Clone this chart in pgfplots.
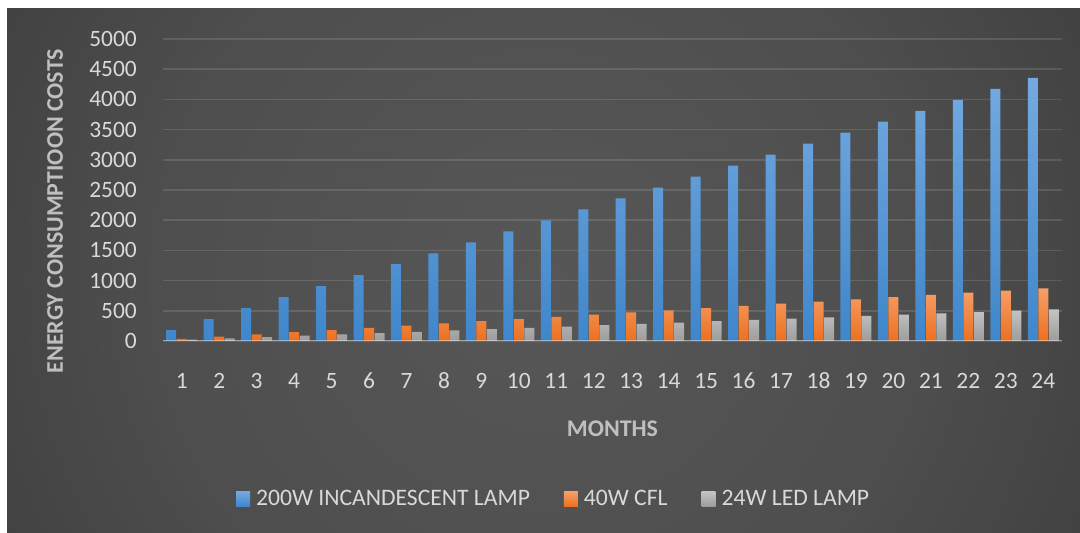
\documentclass[border=0pt]{standalone}
\usepackage{fontspec}
\setmainfont{Carlito}
\usepackage{pgfplots}
\pgfplotsset{compat=1.18}

% palette
\definecolor{bgc}{HTML}{575757}
\definecolor{bgm}{HTML}{4E4E4E}
\definecolor{bge}{HTML}{262626}
\definecolor{blueT}{HTML}{74AAE0}
\definecolor{blueB}{HTML}{3F86CB}
\definecolor{orangeT}{HTML}{F6A06A}
\definecolor{orangeB}{HTML}{EC7020}
\definecolor{greyT}{HTML}{C4C4C4}
\definecolor{greyB}{HTML}{9C9C9C}
\definecolor{ticktext}{HTML}{D9D9D9}
\definecolor{titletext}{HTML}{BFBFBF}

\pgfdeclareradialshading{bgglow}{\pgfpoint{0bp}{0bp}}{%
  color(0bp)=(bgc); color(12bp)=(bgm); color(34bp)=(bge); color(50bp)=(bge)}

\begin{document}
\begin{tikzpicture}
  % page and dark chart panel
  \fill[white] (0bp,0bp) rectangle (1080bp,533bp);
  \begin{scope}
    \clip (7bp,0bp) rectangle (1080bp,524bp);
    \shade[shading=bgglow] (-260bp,-547bp) rectangle (1340bp,1053bp);
  \end{scope}
  \useasboundingbox (0bp,0bp) rectangle (1080bp,533bp);

  \begin{axis}[
    at={(163bp,192bp)}, anchor=south west,
    scale only axis,
    width=899bp, height=302bp,
    xmin=0.5, xmax=24.5,
    ymin=0, ymax=5000,
    xtick={1,...,24},
    ytick={0,500,...,5000},
    ybar=0.5bp, bar width=10bp,
    axis line style={draw=none},
    major tick length=0pt,
    ymajorgrids,
    grid style={white, opacity=0.12, line width=1.6bp},
    /pgf/number format/assume math mode=true,
    /pgf/number format/1000 sep={},
    tick label style={font=\fontsize{23.5}{26}\selectfont, text=ticktext, inner sep=0pt},
    yticklabel style={anchor=east, xshift=-26bp},
    xticklabel style={anchor=base, yshift=-47bp},
    xlabel={MONTHS},
    ylabel={ENERGY CONSUMPTIOON COSTS},
    label style={font=\bfseries\fontsize{24}{27}\selectfont, text=titletext},
    xlabel style={at={(axis description cs:0.5,-0.291)}, anchor=center},
    ylabel style={at={(axis description cs:-0.120,0.430)}, anchor=center, rotate=0},
    legend columns=-1,
    legend style={at={(axis description cs:0.434,-0.523)}, anchor=center,
      draw=none, fill=none, text=ticktext,
      font=\fontsize{23.7}{26}\selectfont,
      nodes={inner sep=1bp},
      /tikz/every odd column/.append style={column sep=5bp},
      /tikz/every even column/.append style={column sep=33bp}},
    legend image code/.code={\fill[#1] (0bp,-7.5bp) rectangle (14bp,7.5bp);},
  ]
    \addplot[draw=none, top color=blueT, bottom color=blueB] coordinates {
      (1,182) (2,363) (3,545) (4,726) (5,908) (6,1089) (7,1271) (8,1452)
      (9,1634) (10,1815) (11,1997) (12,2178) (13,2360) (14,2541) (15,2723)
      (16,2904) (17,3086) (18,3267) (19,3449) (20,3630) (21,3812) (22,3993)
      (23,4175) (24,4356)};
    \addplot[draw=none, top color=orangeT, bottom color=orangeB] coordinates {
      (1,36) (2,73) (3,109) (4,145) (5,182) (6,218) (7,254) (8,290)
      (9,327) (10,363) (11,399) (12,436) (13,472) (14,508) (15,545)
      (16,581) (17,617) (18,653) (19,690) (20,726) (21,762) (22,799)
      (23,835) (24,871)};
    \addplot[draw=none, top color=greyT, bottom color=greyB] coordinates {
      (1,22) (2,44) (3,65) (4,87) (5,109) (6,131) (7,152) (8,174)
      (9,196) (10,218) (11,240) (12,261) (13,283) (14,305) (15,327)
      (16,348) (17,370) (18,392) (19,414) (20,436) (21,457) (22,479)
      (23,501) (24,523)};
    \legend{200W INCANDESCENT LAMP, 40W CFL, 24W LED LAMP}
    % baseline drawn over the bar feet
    \draw[white, opacity=0.4, line width=2.5bp] (axis cs:0.5,0) -- (axis cs:24.5,0);
  \end{axis}
\end{tikzpicture}
\end{document}
